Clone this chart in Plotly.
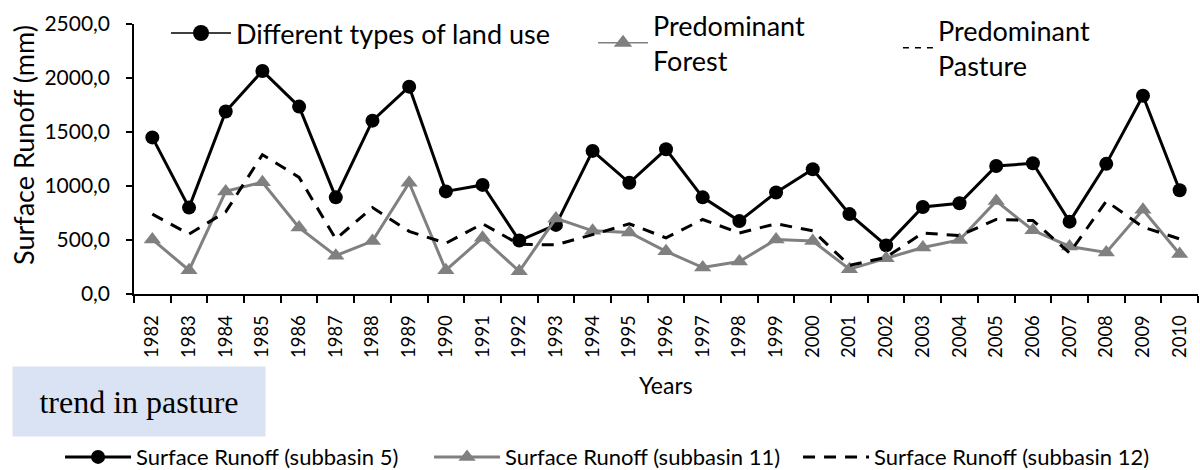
import plotly.graph_objects as go

# ---------------- data ----------------
years = ["1982", "1983", "1984", "1985", "1986", "1987", "1988", "1989", "1990",
         "1991", "1992", "1993", "1994", "1995", "1996", "1997", "1998", "1999",
         "2000", "2001", "2002", "2003", "2004", "2005", "2006", "2007", "2008",
         "2009", "2010"]

runoff_sub5 = [1450, 800, 1690, 2065, 1735, 895, 1605, 1920, 950, 1010, 495, 640,
               1325, 1030, 1340, 895, 675, 940, 1155, 740, 450, 805, 840, 1185,
               1210, 670, 1205, 1835, 960]

runoff_sub11 = [505, 220, 950, 1035, 615, 355, 490, 1030, 220, 520, 210, 700,
                585, 570, 395, 245, 300, 505, 490, 230, 330, 430, 500, 860,
                590, 440, 385, 780, 370]

runoff_sub12 = [740, 555, 760, 1290, 1080, 510, 800, 580, 470, 650, 460, 455,
                550, 650, 520, 690, 565, 650, 585, 265, 340, 565, 540, 690,
                680, 380, 860, 620, 510]

y_tick_values = [0, 500, 1000, 1500, 2000, 2500]
y_tick_labels = ["0,0", "500,0", "1000,0", "1500,0", "2000,0", "2500,0"]

series_names = ["Surface Runoff (subbasin 5)", "Surface Runoff (subbasin 11)",
                "Surface Runoff (subbasin 12)"]
landuse_names = ["Different types of land use", "Predominant<br>Forest",
                 "Predominant<br>Pasture"]

# ---------------- style ----------------
FONT = "Lato"
BLACK = "#000000"
GRAY = "#808080"

fig = go.Figure()

# data traces (bottom legend)
fig.add_trace(go.Scatter(
    x=years, y=runoff_sub5, mode="lines+markers", name=series_names[0],
    line=dict(color=BLACK, width=3),
    marker=dict(symbol="circle", size=14, color=BLACK),
    legend="legend"))
fig.add_trace(go.Scatter(
    x=years, y=runoff_sub11, mode="lines+markers", name=series_names[1],
    line=dict(color=GRAY, width=3),
    marker=dict(symbol="triangle-up", size=15, color=GRAY),
    legend="legend"))
fig.add_trace(go.Scatter(
    x=years, y=runoff_sub12, mode="lines", name=series_names[2],
    line=dict(color=BLACK, width=3, dash="12px,9px"),
    legend="legend"))

# land-use legend entries (top legends)
fig.add_trace(go.Scatter(
    x=[None], y=[None], mode="lines+markers", name=landuse_names[0],
    line=dict(color=BLACK, width=1.5),
    marker=dict(symbol="circle", size=16, color=BLACK),
    legend="legend2", hoverinfo="skip"))
fig.add_trace(go.Scatter(
    x=[None], y=[None], mode="lines+markers", name=landuse_names[1],
    line=dict(color=GRAY, width=1.5),
    marker=dict(symbol="triangle-up", size=16, color=GRAY),
    legend="legend3", hoverinfo="skip"))
fig.add_trace(go.Scatter(
    x=[None], y=[None], mode="lines", name=landuse_names[2],
    line=dict(color=BLACK, width=1.5, dash="6px,6px"),
    legend="legend4", hoverinfo="skip"))

fig.update_layout(
    width=1200, height=470,
    margin=dict(l=134, r=2, t=24, b=176, autoexpand=False),
    paper_bgcolor="white", plot_bgcolor="white",
    font=dict(family=FONT, color=BLACK),
    showlegend=True,
    legend=dict(orientation="h", x=-0.0695, xanchor="left", y=-0.604,
                yanchor="middle", font=dict(size=22, family=FONT),
                bgcolor="rgba(0,0,0,0)", itemwidth=66, entrywidth=288,
                traceorder="normal"),
    legend2=dict(x=0.0301, xanchor="left", y=0.965, yanchor="middle",
                 font=dict(size=27, family=FONT), bgcolor="rgba(0,0,0,0)",
                 itemwidth=60),
    legend3=dict(x=0.4314, xanchor="left", y=0.929, yanchor="middle",
                 font=dict(size=27, family=FONT), bgcolor="rgba(0,0,0,0)",
                 itemwidth=50),
    legend4=dict(x=0.718, xanchor="left", y=0.911, yanchor="middle",
                 font=dict(size=27, family=FONT), bgcolor="rgba(0,0,0,0)"),
    xaxis=dict(
        type="category", range=[-0.5, len(years) - 0.5],
        showline=True, linecolor=BLACK, linewidth=1.5,
        ticks="outside", ticklen=7, tickwidth=1.5, tickcolor=BLACK,
        tickson="boundaries", tickangle=-90, ticklabelstandoff=12,
        tickfont=dict(size=18.5, family=FONT), automargin=False,
        showgrid=False, zeroline=False),
    yaxis=dict(
        range=[0, 2500], tickmode="array",
        tickvals=y_tick_values, ticktext=y_tick_labels,
        showline=True, linecolor=BLACK, linewidth=1.5,
        ticks="outside", ticklen=6, tickwidth=1.5, tickcolor=BLACK,
        tickfont=dict(size=21, family=FONT), ticklabelstandoff=12,
        automargin=False, showgrid=False, zeroline=False),
    annotations=[
        dict(text="Surface Runoff (mm)", xref="paper", yref="paper",
             x=-0.1034, y=0.552, textangle=-90, showarrow=False,
             xanchor="center", yanchor="middle",
             font=dict(size=27, family=FONT)),
        dict(text="Years", xref="paper", yref="paper",
             x=0.5, y=-0.337, showarrow=False,
             xanchor="center", yanchor="middle",
             font=dict(size=23, family=FONT)),
        dict(text="trend in pasture", xref="paper", yref="paper",
             x=0.0047, y=-0.398, showarrow=False,
             xanchor="center", yanchor="middle",
             width=252, height=69, bgcolor="#DAE3F3", borderpad=0,
             font=dict(size=32, family="Liberation Serif", color=BLACK)),
    ],
)

fig.write_html(
    "out.html",
    config={"displayModeBar": False},
    post_script="document.body.style.margin='0px';"
                "document.body.style.overflow='hidden';",
)
